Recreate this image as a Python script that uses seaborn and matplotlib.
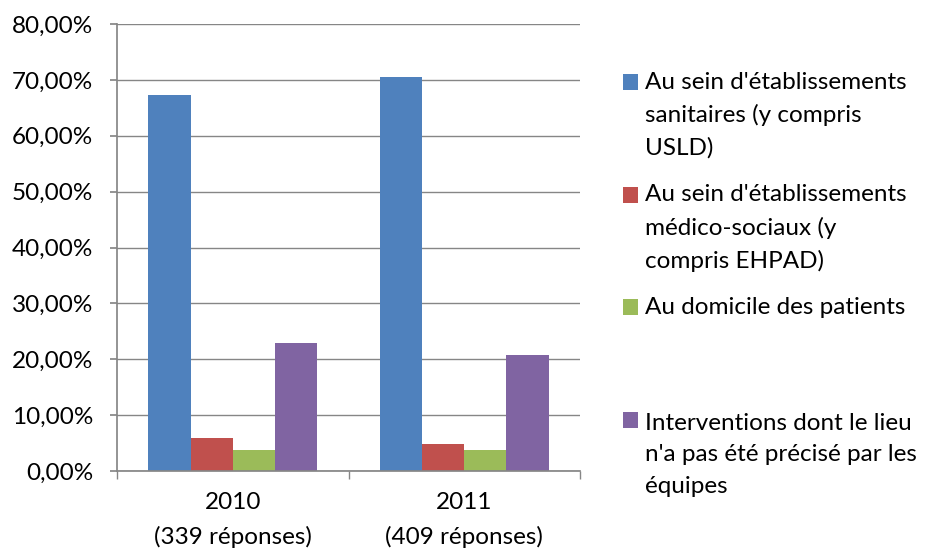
import matplotlib
matplotlib.use("Agg")
import matplotlib.pyplot as plt
import seaborn as sns
import pandas as pd
from matplotlib.patches import Rectangle
from matplotlib.ticker import FuncFormatter, MultipleLocator

categories = ["2010\n(339 réponses)", "2011\n(409 réponses)"]
series = [
    "Au sein d'établissements\nsanitaires (y compris\nUSLD)",
    "Au sein d'établissements\nmédico-sociaux (y\ncompris EHPAD)",
    "Au domicile des patients",
    "Interventions dont le lieu\nn'a pas été précisé par les\néquipes",
]
values_2010 = [67.3, 5.9, 3.7, 22.9]
values_2011 = [70.6, 4.9, 3.7, 20.7]
colors = ["#4F81BD", "#C0504D", "#9BBB59", "#8064A2"]

rows = []
for cat, vals in zip(categories, [values_2010, values_2011]):
    for s, v in zip(series, vals):
        rows.append({"cat": cat, "series": s, "value": v})
df = pd.DataFrame(rows)

sns.set_theme(style="white")
plt.rcParams["font.family"] = ["Lato", "DejaVu Sans"]
FS = 17.5

W, H = 925, 551
fig = plt.figure(figsize=(W / 100, H / 100), dpi=100)
ax = fig.add_axes([117 / W, 80 / H, (580 - 117) / W, (471 - 24) / H])

sns.barplot(data=df, x="cat", y="value", hue="series", palette=colors,
            width=0.73, saturation=1, ax=ax, legend=False, edgecolor="none")

ax.set_ylim(0, 80)
ax.set_xlim(-0.5, 1.5)
ax.yaxis.set_major_locator(MultipleLocator(10))
ax.yaxis.set_major_formatter(FuncFormatter(lambda v, p: f"{v:.2f}".replace(".", ",") + "%"))
ax.grid(axis="y", color="#868686", linewidth=1)
ax.set_axisbelow(True)
for sp in ["top", "right"]:
    ax.spines[sp].set_visible(False)
ax.spines["left"].set_color("#868686")
ax.spines["bottom"].set_color("#868686")
ax.set_xlabel("")
ax.set_ylabel("")
ax.tick_params(axis="y", which="major", length=5, color="#868686", direction="out",
               left=True, labelsize=FS, pad=12, labelcolor="black")
ax.set_xticks([0, 1])
ax.set_xticklabels(categories, fontsize=FS, linespacing=1.72, color="black")
ax.tick_params(axis="x", which="major", length=0, pad=15)
ax.set_xticks([-0.5, 0.5, 1.5], minor=True)
ax.tick_params(axis="x", which="minor", length=6, color="#868686", direction="out", bottom=True)

# Legend (Excel style: square aligned with first line of each entry)
LINE = 33
baselines = [89, 202, 314, 427]
for s, c, b in zip(series, colors, baselines):
    n = s.count("\n")
    fig.patches.append(Rectangle((623 / W, 1 - (b + 1) / H), 15 / W, 16 / H,
                                 transform=fig.transFigure, facecolor=c, edgecolor="none"))
    fig.text(645 / W, 1 - (b + n * LINE) / H, s, fontsize=FS, va="baseline", ha="left",
             linespacing=1.63, color="black")

fig.savefig("out.png", dpi=100)
